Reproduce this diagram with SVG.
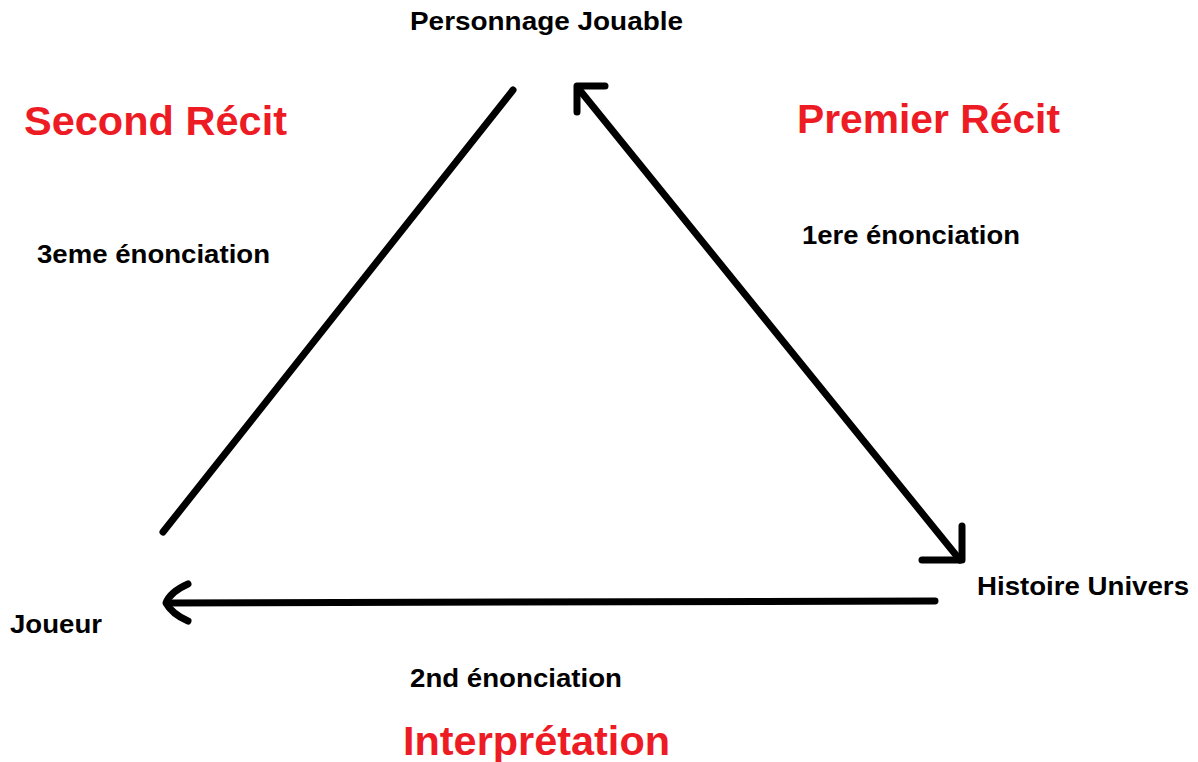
<svg xmlns="http://www.w3.org/2000/svg" width="1198" height="762" viewBox="0 0 1198 762">
<style>
.t{font-family:"Liberation Sans",Arial,sans-serif;font-weight:bold;fill:#000}
.lbl{font-size:26px}
.red{font-size:40px;fill:#ED1C24}
.ln{stroke:#000;stroke-width:7;fill:none;stroke-linecap:round;stroke-linejoin:round}
</style>
<rect width="1198" height="762" fill="#fff"/>
<g id="connectors">
<line class="ln" x1="513" y1="90" x2="163" y2="532"/>
<line class="ln" x1="578" y1="88" x2="960" y2="560"/>
<path class="ln" d="M605 86 L577 86 L577 112"/>
<path class="ln" d="M962 526 L962 560 L922 560"/>
<line class="ln" x1="935" y1="601" x2="167" y2="603"/>
<path class="ln" d="M188 584 Q170 592 166 603 Q172 614 188 621"/>
</g>
<g id="node-personnage"><text class="t lbl" x="410" y="30" textLength="273" lengthAdjust="spacingAndGlyphs">Personnage Jouable</text></g>
<g id="node-joueur"><text class="t lbl" x="10" y="633" textLength="92" lengthAdjust="spacingAndGlyphs">Joueur</text></g>
<g id="node-histoire"><text class="t lbl" x="977" y="595" textLength="212" lengthAdjust="spacingAndGlyphs">Histoire Univers</text></g>
<g id="label-3eme"><text class="t lbl" x="37" y="263" textLength="233" lengthAdjust="spacingAndGlyphs">3eme énonciation</text></g>
<g id="label-1ere"><text class="t lbl" x="802" y="244" textLength="218" lengthAdjust="spacingAndGlyphs">1ere énonciation</text></g>
<g id="label-2nd"><text class="t lbl" x="410" y="687" textLength="212" lengthAdjust="spacingAndGlyphs">2nd énonciation</text></g>
<g id="label-second"><text class="t red" x="24" y="135" textLength="263" lengthAdjust="spacingAndGlyphs">Second Récit</text></g>
<g id="label-premier"><text class="t red" x="797" y="133" textLength="263" lengthAdjust="spacingAndGlyphs">Premier Récit</text></g>
<g id="label-interpretation"><text class="t red" x="403" y="755" textLength="267" lengthAdjust="spacingAndGlyphs">Interprétation</text></g>
</svg>
